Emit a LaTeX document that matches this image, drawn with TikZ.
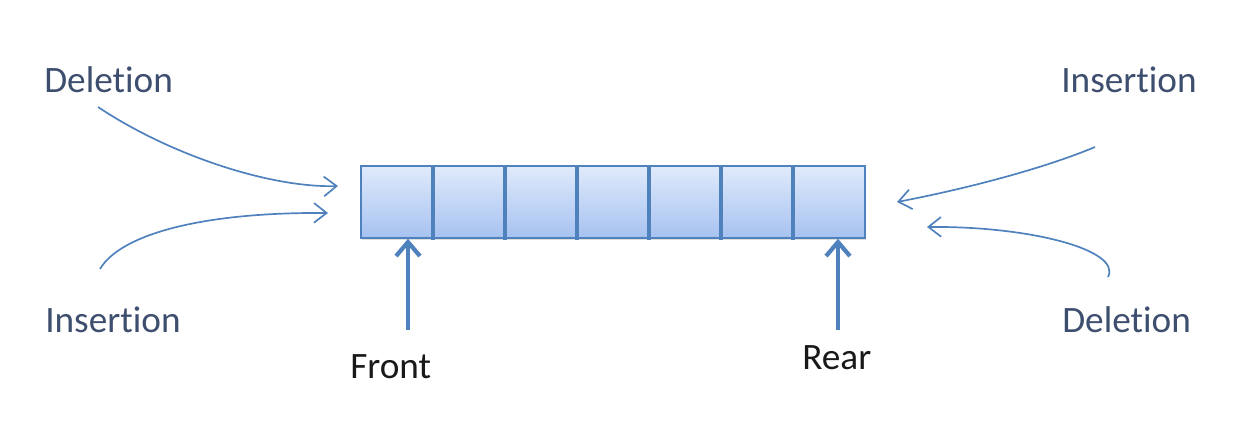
\documentclass[tikz,border=0pt]{standalone}
\usepackage{fontspec}
\setmainfont{Carlito}[Ligatures=NoCommon]
\usetikzlibrary{arrows.meta,shadows}

\definecolor{qline}{RGB}{79,129,189}
\definecolor{qtop}{RGB}{224,234,251}
\definecolor{qbot}{RGB}{166,194,241}
\definecolor{labeltext}{RGB}{62,78,110}

\tikzset{
  lbl/.style={anchor=base west, inner sep=0pt, text=labeltext, font=\fontsize{26.5}{31}\selectfont},
  ptr/.style={anchor=base west, inner sep=0pt, text=black!90, font=\fontsize{26.5}{31}\selectfont},
  queuebox/.style={draw=qline, line width=1.1pt, top color=qtop, bottom color=qbot,
    minimum width=12.6cm, minimum height=1.8cm, inner sep=0pt,
    drop shadow={shadow xshift=1pt, shadow yshift=-1.5pt, opacity=0.25}},
  divider/.style={qline, line width=3pt},
  flow/.style={qline, line width=1.2pt, -{Straight Barb[length=9pt,width=14pt]}},
  pointer/.style={qline, line width=3pt, -{Straight Barb[length=10pt,width=17pt]}}
}

\begin{document}
\begin{tikzpicture}[x=0.025cm, y=-0.025cm]
                \useasboundingbox (0,0) rectangle (1240,440);

                % the queue
                \node [queuebox] (queue) at (613,202) {};
                \foreach \x in {433,505,...,793}
                    \draw [divider] (\x,166) -- (\x,240);

                % labels
                \node [lbl] (delleft) at (44,93) {Deletion};
                \node [lbl] (insleft) at (45,332) {Insertion};
                \node [lbl] (insright) at (1061,93) {Insertion};
                \node [lbl] (delright) at (1062,332) {Deletion};
                \node [ptr] (front) at (350,378) {Front};
                \node [ptr] (rear) at (802,369) {Rear};

                % ends of the curved arrows
                \coordinate (a1) at (98,107);
                \coordinate (b1) at (338,186);
                \coordinate (a2) at (100,269);
                \coordinate (b2) at (328,213);
                \coordinate (a3) at (1095,147);
                \coordinate (b3) at (897,202);
                \coordinate (a4) at (1108,277);
                \coordinate (b4) at (927,227);

                \draw [flow] (a1) .. controls (170,155) and (270,188) .. (b1);
                \draw [flow] (a2) .. controls (120,235) and (200,212) .. (b2);
                \draw [flow] (a3) .. controls (1040,170) and (960,190) .. (b3);
                \draw [flow] (a4) .. controls (1122,250) and (1030,226) .. (b4);

                % front and rear pointers
                \coordinate (ftail) at (408,330);
                \coordinate (rtail) at (838,330);
                \draw [pointer] (ftail) -- (ftail |- queue.south);
                \draw [pointer] (rtail) -- (rtail |- queue.south);
\end{tikzpicture}
\end{document}
